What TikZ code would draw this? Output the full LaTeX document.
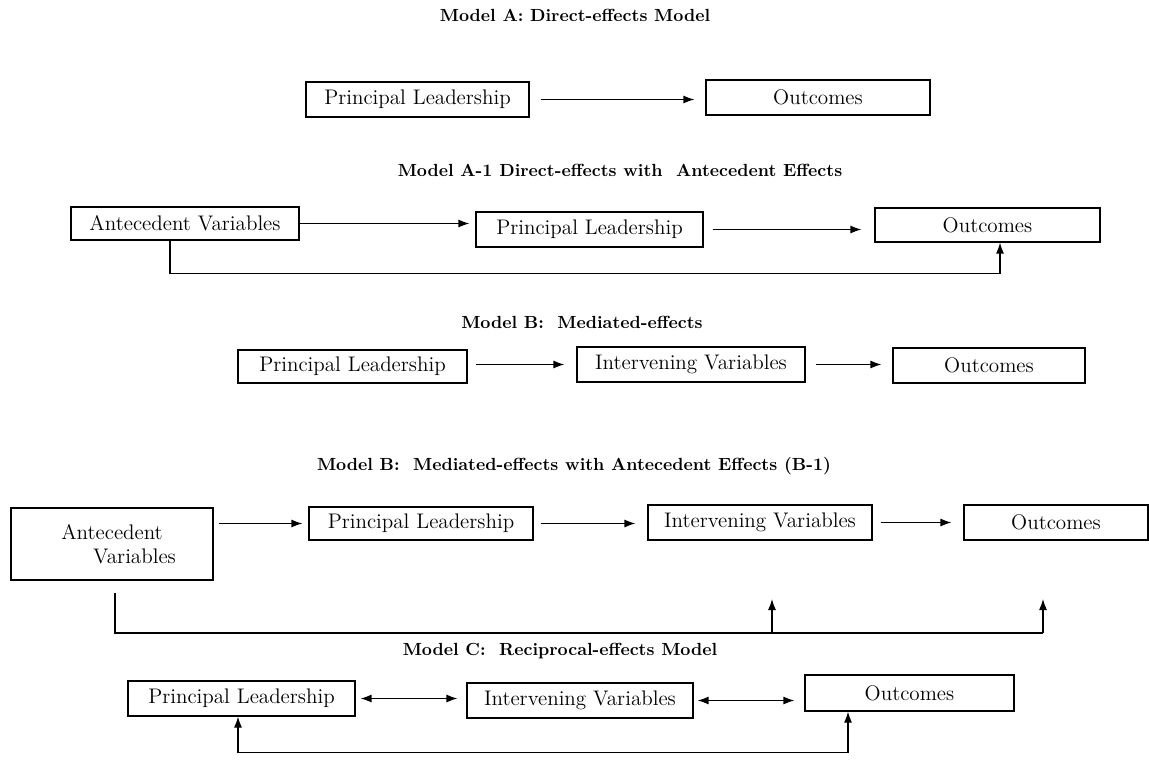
\documentclass[tikz,border=0pt]{standalone}
\usepackage{tikz}
\usetikzlibrary{arrows.meta}
\tikzset{>={Latex[length=2.2mm,width=1.6mm]}}
\tikzset{box/.style={draw,line width=0.7pt,inner sep=0pt,font=\fontsize{12}{14}\selectfont}}
\tikzset{title/.style={font=\fontsize{10}{12}\selectfont\bfseries}}
\tikzset{link/.style={line width=0.7pt}}

\begin{document}
\begin{tikzpicture}[x=0.02cm,y=-0.02cm]
\useasboundingbox (0,0) rectangle (1149,761);

% Model A
\node[title] (ta) at (575,15) {Model A: Direct-effects Model};
\node[box,minimum width=4.46cm,minimum height=0.7cm] (pl0) at (417.5,99.5) {Principal Leadership};
\node[box,minimum width=4.48cm,minimum height=0.7cm] (oc0) at (818,97.5) {Outcomes};
\draw[link,->,shorten <=0.22cm,shorten >=0.22cm] (pl0.east) -- (pl0.east -| oc0.west);

% Model A-1
\node[title] (ta1) at (620,170) {Model A-1 Direct-effects with\ \ Antecedent Effects};
\node[box,minimum width=4.56cm,minimum height=0.66cm] (av1) at (185,223.5) {Antecedent Variables};
\node[box,minimum width=4.54cm,minimum height=0.7cm] (pl1) at (589.5,229.5) {Principal Leadership};
\node[box,minimum width=4.5cm,minimum height=0.68cm] (oc1) at (987.5,225) {Outcomes};
\draw[link,->,shorten >=0.12cm] (av1.east) -- (av1.east -| pl1.west);
\draw[link,->,shorten <=0.18cm,shorten >=0.26cm] (pl1.east) -- (pl1.east -| oc1.west);
\draw[link,->] ([xshift=-0.3cm]av1.south) -- ++(0,-0.66cm) -| ([xshift=0.25cm]oc1.south);

% Model B
\node[title] (tb) at (582,322) {Model B:\ \ Mediated-effects};
\node[box,minimum width=4.58cm,minimum height=0.66cm] (pl2) at (352.5,366.5) {Principal Leadership};
\node[box,minimum width=4.56cm,minimum height=0.7cm] (iv2) at (691,364.5) {Intervening Variables};
\node[box,minimum width=3.84cm,minimum height=0.7cm] (oc2) at (989,365.5) {Outcomes};
\draw[link,->,shorten <=0.16cm,shorten >=0.24cm] (pl2.east |- iv2) -- (iv2.west);
\draw[link,->,shorten <=0.2cm,shorten >=0.22cm] (iv2.east) -- (iv2.east -| oc2.west);

% Model B-1
\node[title] (tb1) at (574,466) {Model B:\ \ Mediated-effects with Antecedent Effects (B-1)};
\node[box,minimum width=4.04cm,minimum height=1.44cm,align=center] (av2) at (112,544) {Antecedent\\\hspace*{0.9cm}Variables};
\node[box,minimum width=4.48cm,minimum height=0.66cm] (pl3) at (421,523.5) {Principal Leadership};
\node[box,minimum width=4.48cm,minimum height=0.7cm] (iv3) at (760,522.5) {Intervening Variables};
\node[box,minimum width=3.68cm,minimum height=0.7cm] (oc3) at (1056,522.5) {Outcomes};
\draw[link,->,shorten <=0.1cm,shorten >=0.12cm] (av2.east |- pl3) -- (pl3.west);
\draw[link,->,shorten <=0.14cm,shorten >=0.24cm] (pl3.east) -- (pl3.east -| iv3.west);
\draw[link,->,shorten <=0.16cm,shorten >=0.24cm] (iv3.east) -- (iv3.east -| oc3.west);
\coordinate (fb0) at (115,593);
\coordinate (fb1) at (115,633);
\coordinate (fb2) at (772,633);
\coordinate (fb3) at (1043,633);
\draw[link] (fb0) -- (fb1) -- (fb3);
\draw[link,->] (fb2) -- ++(0,0.68cm);
\draw[link,->] (fb3) -- ++(0,0.68cm);

% Model C
\node[title] (tc) at (560,651) {Model C:\ \ Reciprocal-effects Model};
\node[box,minimum width=4.54cm,minimum height=0.7cm] (pl5) at (241.5,698.5) {Principal Leadership};
\node[box,minimum width=4.52cm,minimum height=0.7cm] (iv5) at (580,700.5) {Intervening Variables};
\node[box,minimum width=4.18cm,minimum height=0.72cm] (oc5) at (909.5,693) {Outcomes};
\draw[link,<->,shorten <=0.1cm,shorten >=0.18cm] (pl5.east) -- (pl5.east -| iv5.west);
\draw[link,<->,shorten <=0.08cm,shorten >=0.2cm] (iv5.east) -- (iv5.east -| oc5.west);
\draw[link,<->] ([xshift=-0.07cm]pl5.south) -- ++(0,-0.72cm) -| ([xshift=-1.23cm]oc5.south);
\end{tikzpicture}
\end{document}
